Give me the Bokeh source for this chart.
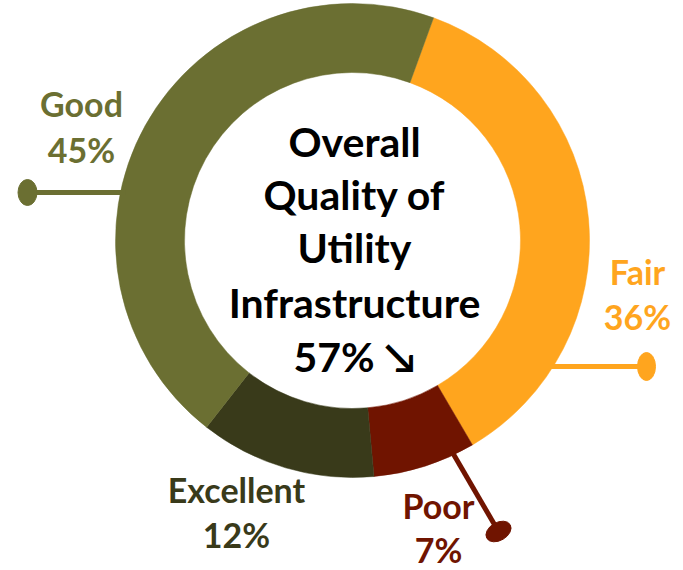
import numpy as np
from bokeh.plotting import figure
from bokeh.models import Range1d, ColumnDataSource
from bokeh.core.properties import value
from bokeh.embed import file_html
from bokeh.resources import INLINE

# ---- data ----
categories = ["Fair", "Poor", "Excellent", "Good"]
percents = [36, 7, 12, 45]
colors = ["#FFA51E", "#701400", "#393A1A", "#6B6F32"]
center_lines = ["Overall", "Quality of", "Utility", "Infrastructure", "57% \u2198"]

# ---- layout (pixels from the top-left of the picture) ----
W, H = 683, 570


def sx(x):
    return x


def sy(y):
    return H - y


CX, CY = 352, 240          # donut centre
R_OUT, R_IN = 237, 168
START_DEG = 70              # first slice starts 20 deg clockwise from top

LBL_SIZE, CTR_SIZE = 34, 41
SHIFT = 0.4                 # baseline correction (fraction of font size)

label_pos = {   # centre x, name baseline y, pct baseline y
    "Good": (81, 117, 163),
    "Fair": (637, 285, 330),
    "Excellent": (236, 503, 548),
    "Poor": (438, 519, 563),
}
leaders = {     # line from (x0,y0) to dot (x1,y1), dot w,h,angle
    "Good": ((125, 192), (27, 192), 19, 26, 0),
    "Fair": ((550, 366), (646, 366), 18, 28, 0),
    "Poor": ((452, 452), (498, 531), 27, 18, 30),
}

p = figure(width=W, height=H, x_range=Range1d(0, W), y_range=Range1d(0, H),
           output_backend="svg", toolbar_location=None, min_border=0)
p.axis.visible = False
p.grid.visible = False
p.outline_line_color = None
p.background_fill_color = "white"
p.border_fill_color = "white"

frac = np.array(percents, dtype=float) / sum(percents)
cum = np.concatenate([[0], np.cumsum(frac)])
start0 = np.deg2rad(START_DEG)
starts = start0 - cum[:-1] * 2 * np.pi
ends = start0 - cum[1:] * 2 * np.pi

src = ColumnDataSource(dict(cat=categories, start=starts, end=ends, color=colors,
                            x=[sx(CX)] * 4, y=[sy(CY)] * 4))
p.annular_wedge(x="x", y="y", inner_radius=R_IN, outer_radius=R_OUT,
                start_angle="start", end_angle="end", direction="clock",
                fill_color="color", line_color="color", line_width=0.5, source=src)

cmap = dict(zip(categories, colors))
pmap = dict(zip(categories, percents))

for cat, ((x0, y0), (x1, y1), w, h, ang) in leaders.items():
    c = cmap[cat]
    p.line([sx(x0), sx(x1)], [sy(y0), sy(y1)], line_color=c, line_width=5)
    p.ellipse(x=[sx(x1)], y=[sy(y1)], width=w, height=h, angle=np.deg2rad(ang),
              fill_color=c, line_color=c)

for cat in categories:
    x, yn, yp = label_pos[cat]
    c = cmap[cat]
    d = SHIFT * LBL_SIZE
    p.text(x=[sx(x), sx(x)], y=[sy(yn - d), sy(yp - d)], text=[cat, f"{pmap[cat]}%"],
           text_font=value("Lato"), text_font_style="bold",
           text_font_size=f"{LBL_SIZE}px",
           text_color=c, text_align="center", text_baseline="alphabetic")

cys = [157, 210, 263, 318, 372]
d = SHIFT * CTR_SIZE
p.text(x=[sx(354)] * 5, y=[sy(v - d) for v in cys], text=center_lines,
       text_font=value("Lato"), text_font_style="bold",
       text_font_size=f"{CTR_SIZE}px",
       text_color="black", text_align="center", text_baseline="alphabetic")

open("out.html", "w").write(file_html(p, INLINE))
